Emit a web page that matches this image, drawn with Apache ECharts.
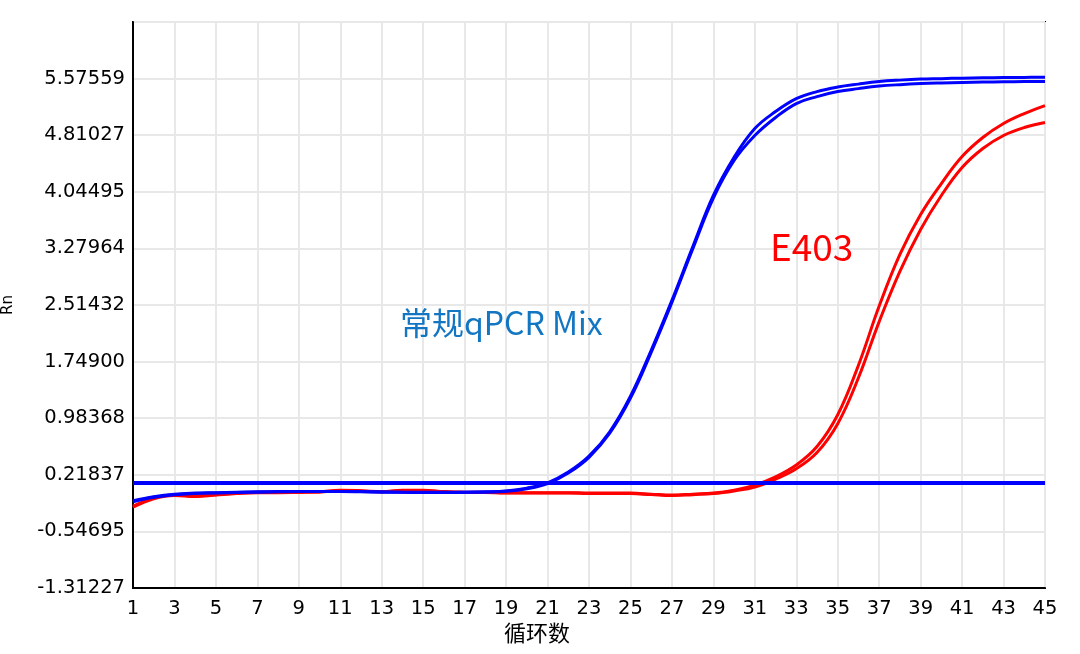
<!DOCTYPE html>
<html>
<head>
<meta charset="utf-8">
<style>
  html, body { margin: 0; padding: 0; background: #fff; }
  #chart { width: 1080px; height: 654px; }
</style>
<script src="https://cdn.jsdelivr.net/npm/echarts@6/dist/echarts.min.js"></script>
</head>
<body>
<div id="chart"></div>
<script>
  // cycles 1..45
  var cycles = [];
  for (var c = 1; c <= 45; c++) cycles.push(String(c));

  // y axis: bottom value and step between ticks (Rn)
  var yMin = -1.31227;
  var yStep = 0.7653178;
  var yTicks = 10;

  var threshold = 0.110;

  var blueA = [-0.131, -0.077, -0.043, -0.029, -0.023, -0.016, -0.012, -0.009, -0.006, -0.006,
    -0.006, -0.009, -0.012, -0.016, -0.016, -0.016, -0.016, -0.012, 0.000, 0.038,
    0.110, 0.255, 0.470, 0.800, 1.280, 1.902, 2.577, 3.297, 3.995, 4.512,
    4.900, 5.130, 5.305, 5.400, 5.461, 5.501, 5.535, 5.555, 5.569, 5.575,
    5.582, 5.586, 5.589, 5.592, 5.593];
  var blueB = [-0.145, -0.085, -0.050, -0.035, -0.027, -0.020, -0.016, -0.012, -0.009, -0.009,
    -0.009, -0.012, -0.016, -0.019, -0.020, -0.020, -0.019, -0.016, -0.005, 0.030,
    0.100, 0.242, 0.455, 0.780, 1.255, 1.875, 2.550, 3.270, 3.960, 4.468,
    4.806, 5.049, 5.238, 5.332, 5.400, 5.440, 5.474, 5.494, 5.508, 5.517,
    5.524, 5.529, 5.533, 5.535, 5.535];
  var redA = [-0.205, -0.097, -0.056, -0.070, -0.050, -0.029, -0.016, -0.016, -0.016, -0.009,
    0.011, 0.004, -0.009, 0.011, 0.011, -0.009, -0.016, -0.016, -0.023, -0.023,
    -0.023, -0.023, -0.029, -0.029, -0.029, -0.043, -0.056, -0.043, -0.029, 0.011,
    0.079, 0.190, 0.350, 0.600, 1.030, 1.700, 2.500, 3.198, 3.739, 4.157,
    4.522, 4.779, 4.968, 5.103, 5.211];
  var redB = [-0.220, -0.105, -0.062, -0.076, -0.056, -0.036, -0.023, -0.023, -0.020, -0.016,
    0.004, -0.002, -0.014, 0.004, 0.004, -0.014, -0.020, -0.022, -0.029, -0.029,
    -0.029, -0.029, -0.034, -0.034, -0.036, -0.049, -0.062, -0.050, -0.036, 0.000,
    0.052, 0.160, 0.300, 0.520, 0.910, 1.530, 2.290, 2.969, 3.536, 3.995,
    4.373, 4.630, 4.806, 4.914, 4.981];

  // values are plotted in "tick units" so the ticks land on the Rn labels
  function toAxis(v) { return (v - yMin) / yStep; }
  function lineSeries(name, values, color) {
    return {
      name: name,
      type: 'line',
      data: values.map(toAxis),
      smooth: 0.4,
      showSymbol: false,
      lineStyle: { color: color, width: 3 },
      itemStyle: { color: color },
      silent: true
    };
  }

  var chart = echarts.init(document.getElementById('chart'));
  var labelFont = { color: '#000', fontFamily: 'DejaVu Sans', fontSize: 19.5 };

  chart.setOption({
    animation: false,
    backgroundColor: '#fff',
    grid: {
      left: 133, right: 35, top: 22, bottom: 66,
      outerBoundsMode: 'none',
      containLabel: false,
      show: true, borderColor: '#000', borderWidth: 2
    },
    xAxis: {
      type: 'category',
      data: cycles,
      boundaryGap: false,
      axisLine: { lineStyle: { color: '#000', width: 2 } },
      axisTick: { show: false },
      axisLabel: Object.assign({ interval: 1, margin: 11 }, labelFont),
      splitLine: { show: true, interval: 1, lineStyle: { color: '#e8e8e8', width: 2 } }
    },
    yAxis: {
      type: 'value',
      min: 0,
      max: yTicks,
      interval: 1,
      name: 'Rn',
      nameLocation: 'middle',
      nameGap: 117,
      nameTextStyle: { color: '#000', fontFamily: 'DejaVu Sans', fontSize: 15 },
      axisLine: { show: true, lineStyle: { color: '#000', width: 2 } },
      axisTick: { show: false },
      axisLabel: Object.assign({
        margin: 8,
        formatter: function (v) {
          if (v >= yTicks) return '';
          return (yMin + v * yStep).toFixed(5);
        }
      }, labelFont),
      splitLine: { show: true, lineStyle: { color: '#e8e8e8', width: 2 } }
    },
    graphic: [
      {
        type: 'text', left: 400, top: 307, z: 100,
        style: { text: '常规qPCR Mix', fill: '#1276c2', font: '32px "Noto Sans CJK SC"' }
      },
      {
        type: 'text', left: 770, top: 228, z: 100,
        style: { text: 'E403', fill: '#ff0000', font: '37px "Noto Sans CJK SC"' }
      },
      {
        type: 'text', left: 504, top: 622, z: 100,
        style: { text: '循环数', fill: '#000', font: '22px "Noto Sans CJK SC"' }
      }
    ],
    series: [
      lineSeries('E403-1', redA, '#ff0000'),
      lineSeries('E403-2', redB, '#ff0000'),
      lineSeries('常规qPCR Mix-1', blueA, '#0000ff'),
      Object.assign(lineSeries('常规qPCR Mix-2', blueB, '#0000ff'), {
        markLine: {
          silent: true,
          symbol: 'none',
          label: { show: false },
          lineStyle: { color: '#0000ff', width: 4, type: 'solid' },
          data: [{ yAxis: toAxis(threshold) }]
        }
      })
    ]
  });
</script>
</body>
</html>
